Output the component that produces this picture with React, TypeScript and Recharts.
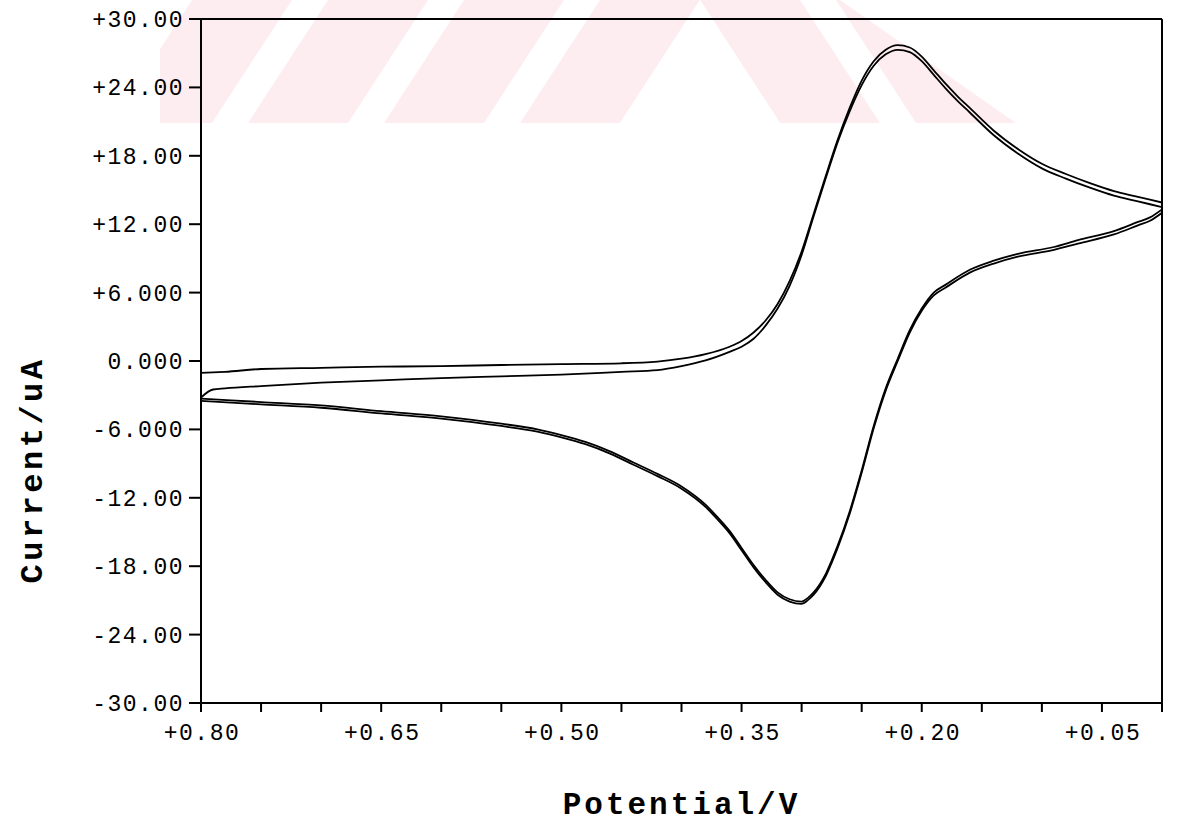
import { LineChart, Line, XAxis, YAxis, Label } from "recharts";

// potential (V) for the cathodic sweep, 0.80 -> 0.00
const potentialFwd = [
  0.8, 0.79, 0.78, 0.75, 0.7, 0.65, 0.6, 0.55, 0.5, 0.45, 0.42, 0.4, 0.38, 0.36,
  0.35, 0.34, 0.33, 0.32, 0.31, 0.3, 0.29, 0.28, 0.27, 0.26, 0.25, 0.24, 0.23,
  0.22, 0.21, 0.2, 0.19, 0.18, 0.17, 0.16, 0.14, 0.12, 0.1, 0.08, 0.06, 0.04,
  0.02, 0.0,
];
// current (uA), cycle 1 and cycle 2
const cycle1Fwd = [
  -1.05, -1.0, -0.95, -0.7, -0.6, -0.5, -0.45, -0.35, -0.27, -0.2, -0.05, 0.2,
  0.6, 1.25, 1.75, 2.5, 3.55, 5.0, 7.0, 9.6, 12.9, 16.2, 19.4, 22.2, 24.6, 26.3,
  27.3, 27.7, 27.5, 26.7, 25.5, 24.3, 23.2, 22.2, 20.2, 18.6, 17.3, 16.4, 15.6,
  14.9, 14.4, 13.9,
];
const cycle2Fwd = [
  -3.2, -2.5, -2.4, -2.2, -1.9, -1.7, -1.5, -1.35, -1.2, -0.95, -0.8, -0.45,
  0.05, 0.8, 1.25, 1.95, 3.1, 4.6, 6.6, 9.3, 12.7, 16.0, 19.2, 21.9, 24.2, 25.9,
  26.9, 27.3, 27.1, 26.3, 25.1, 23.9, 22.8, 21.8, 19.8, 18.2, 16.9, 16.0, 15.2,
  14.5, 14.0, 13.5,
];

// potential (V) for the anodic sweep, 0.00 -> 0.80
const potentialRev = [
  0.0, 0.01, 0.02, 0.04, 0.07, 0.09, 0.12, 0.14, 0.16, 0.18, 0.19, 0.2, 0.21,
  0.22, 0.23, 0.24, 0.25, 0.26, 0.27, 0.275, 0.28, 0.285, 0.29, 0.295, 0.3,
  0.31, 0.32, 0.33, 0.34, 0.35, 0.36, 0.37, 0.38, 0.4, 0.42, 0.44, 0.46, 0.48,
  0.5, 0.52, 0.55, 0.6, 0.65, 0.7, 0.75, 0.8,
];
const cycle1Rev = [
  13.3, 12.6, 12.2, 11.4, 10.6, 10.0, 9.4, 8.8, 8.0, 6.7, 6.0, 4.6, 2.7, 0.2,
  -2.4, -5.7, -9.6, -13.2, -16.2, -17.5, -18.7, -19.6, -20.3, -20.8, -21.1,
  -20.9, -20.3, -19.2, -17.9, -16.4, -14.9, -13.7, -12.6, -11.0, -9.9, -8.9,
  -7.9, -7.1, -6.5, -6.0, -5.5, -4.85, -4.4, -3.9, -3.6, -3.3,
];
const cycle2Rev = [
  13.0, 12.3, 11.9, 11.1, 10.3, 9.75, 9.15, 8.55, 7.75, 6.45, 5.75, 4.4, 2.5,
  0.0, -2.6, -5.9, -9.8, -13.4, -16.4, -17.7, -18.9, -19.8, -20.5, -21.0, -21.3,
  -21.1, -20.5, -19.4, -18.1, -16.6, -15.1, -13.9, -12.8, -11.2, -10.1, -9.1,
  -8.1, -7.3, -6.7, -6.2, -5.7, -5.05, -4.6, -4.1, -3.8, -3.5,
];

const xTicks = [
  0.8, 0.75, 0.7, 0.65, 0.6, 0.55, 0.5, 0.45, 0.4, 0.35, 0.3, 0.25, 0.2, 0.15,
  0.1, 0.05, 0.0,
];
const xMajor = [0.8, 0.65, 0.5, 0.35, 0.2, 0.05];
const xLabels = ["+0.80", "+0.65", "+0.50", "+0.35", "+0.20", "+0.05"];

const yTicks = [30, 24, 18, 12, 6, 0, -6, -12, -18, -24, -30];
const yLabels = [
  "+30.00", "+24.00", "+18.00", "+12.00", "+6.000", "0.000",
  "-6.000", "-12.00", "-18.00", "-24.00", "-30.00",
];

const toPoints = (pot: number[], cur: number[]) =>
  pot.map((p, i) => ({ v: p, i: cur[i] }));

const series = [
  toPoints(potentialFwd, cycle1Fwd),
  toPoints(potentialRev, cycle1Rev),
  toPoints(potentialFwd, cycle2Fwd),
  toPoints(potentialRev, cycle2Rev),
];

const MONO = "'Liberation Mono', 'DejaVu Sans Mono', monospace";
const PINK = "#fdedf0";

const XTick = (props: any) => {
  const { x, y, payload } = props;
  const idx = xMajor.findIndex((m) => Math.abs(m - payload.value) < 1e-6);
  if (idx < 0) return null;
  return (
    <text
      x={x + 1}
      y={y + 26}
      textAnchor="middle"
      fontFamily={MONO}
      fontSize={23}
      letterSpacing={1.5}
      fill="#000"
    >
      {xLabels[idx]}
    </text>
  );
};

const YTick = (props: any) => {
  const { x, y, payload } = props;
  const idx = yTicks.findIndex((t) => t === payload.value);
  return (
    <text
      x={x - 3}
      y={y + 8}
      textAnchor="end"
      fontFamily={MONO}
      fontSize={23}
      letterSpacing={1.5}
      fill="#000"
    >
      {yLabels[idx]}
    </text>
  );
};

const NoTick = () => null;

const YTitle = (props: any) => {
  const { viewBox } = props;
  const cx = viewBox.x + 42;
  const cy = viewBox.y + viewBox.height / 2 + 109;
  return (
    <text
      x={cx}
      y={cy}
      transform={`rotate(-90 ${cx} ${cy})`}
      textAnchor="middle"
      fontFamily={MONO}
      fontWeight="bold"
      fontSize={32}
      letterSpacing={3.5}
      fill="#000"
    >
      Current/uA
    </text>
  );
};

// faint diagonal watermark band behind the plot
const Watermark = () => {
  const left = [112, 248, 384, 520];
  const right = [700, 836];
  return (
    <svg
      width={1181}
      height={826}
      style={{ position: "absolute", left: 0, top: 0 }}
    >
      <defs>
        <clipPath id="wmL">
          <polygon points="160,0 700,0 620,123 160,123" />
        </clipPath>
        <clipPath id="wmR">
          <polygon points="700,0 840,0 1016,123 780,123" />
        </clipPath>
      </defs>
      <g clipPath="url(#wmL)" fill={PINK}>
        {left.map((b) => (
          <polygon
            key={b}
            points={`${b},123 ${b + 100},123 ${b + 180},0 ${b + 80},0`}
          />
        ))}
      </g>
      <g clipPath="url(#wmR)" fill={PINK}>
        {right.map((t) => (
          <polygon
            key={t}
            points={`${t},0 ${t + 100},0 ${t + 180},123 ${t + 80},123`}
          />
        ))}
      </g>
    </svg>
  );
};

const axisStyle = { stroke: "#000", strokeWidth: 2 };

export default function App() {
  return (
    <div
      style={{
        position: "absolute",
        left: 0,
        top: 0,
        width: 1181,
        height: 826,
        background: "#fff",
      }}
    >
      <Watermark />
      <div style={{ position: "absolute", left: 0, top: 0 }}>
        <LineChart
          width={1181}
          height={826}
          margin={{ top: 0, right: 0, bottom: 0, left: 0 }}
        >
          <XAxis
            xAxisId="bottom"
            dataKey="v"
            type="number"
            domain={[0, 0.8]}
            reversed
            ticks={xTicks}
            interval={0}
            height={123}
            tickSize={9}
            axisLine={axisStyle}
            tickLine={axisStyle}
            tick={<XTick />}
            allowDataOverflow
          >
            <Label
              value="Potential/V"
              position="insideBottom"
              offset={12}
              fontFamily={MONO}
              fontWeight="bold"
              fontSize={31}
              letterSpacing={3}
              fill="#000"
            />
          </XAxis>
          <XAxis
            xAxisId="top"
            orientation="top"
            dataKey="v"
            type="number"
            domain={[0, 0.8]}
            reversed
            ticks={xTicks}
            interval={0}
            height={19}
            tickSize={7}
            axisLine={axisStyle}
            tickLine={axisStyle}
            tick={<NoTick />}
          />
          <YAxis
            yAxisId="left"
            type="number"
            domain={[-30, 30]}
            ticks={yTicks}
            interval={0}
            width={201}
            tickSize={12}
            axisLine={axisStyle}
            tickLine={axisStyle}
            tick={<YTick />}
          >
            <Label content={<YTitle />} />
          </YAxis>
          <YAxis
            yAxisId="right"
            orientation="right"
            type="number"
            domain={[-30, 30]}
            ticks={yTicks}
            interval={0}
            width={19}
            tickSize={12}
            axisLine={axisStyle}
            tickLine={axisStyle}
            tick={<NoTick />}
          />
          {series.map((d, k) => (
            <Line
              key={k}
              data={d}
              xAxisId="bottom"
              yAxisId="left"
              dataKey="i"
              type="monotone"
              stroke="#000"
              strokeWidth={1.8}
              dot={false}
              isAnimationActive={false}
            />
          ))}
        </LineChart>
      </div>
    </div>
  );
}
